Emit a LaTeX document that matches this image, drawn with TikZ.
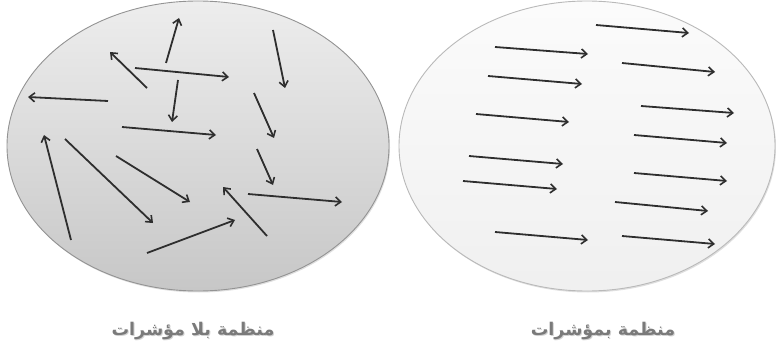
\documentclass[tikz,border=0pt]{standalone}
\usepackage{fontspec}
\newfontfamily\arabicfont[Script=Arabic]{DejaVu Sans}
\TeXXeTstate=1
\usetikzlibrary{arrows.meta,shadows}
\definecolor{arr}{HTML}{2E2E2E}
\definecolor{lbl}{HTML}{7A7A7A}
\tikzset{
  vec/.style={draw=arr,line width=1.8pt,-{Straight Barb[length=5.5pt,width=9pt,line width=1.6pt]}},
  blob/.style={line width=0.9pt,drop shadow={shadow xshift=1pt,shadow yshift=-1.5pt,opacity=0.25}},
  lab/.style={text=lbl,font=\arabicfont\bfseries\fontsize{17.5}{20}\selectfont}
}
\begin{document}
\begin{tikzpicture}[x=1pt,y=-1pt]
\useasboundingbox (0,0) rectangle (776,350);
% left ellipse
\path[blob,draw=gray!85,top color=gray!14,bottom color=gray!44] (198,146) ellipse [x radius=191,y radius=145];
% right ellipse
\path[blob,draw=gray!55,top color=gray!3,bottom color=gray!12] (587,146) ellipse [x radius=188,y radius=145];
% left arrows
\draw[vec] (166,63) -- (179,18);
\draw[vec] (147,88) -- (110,52);
\draw[vec] (135,68) -- (229,77);
\draw[vec] (273,30) -- (285,88);
\draw[vec] (178,80) -- (172,122);
\draw[vec] (108,101) -- (28,97);
\draw[vec] (122,127) -- (216,135);
\draw[vec] (254,93) -- (274,138);
\draw[vec] (257,149) -- (273,185);
\draw[vec] (71,240) -- (44,135);
\draw[vec] (65,139) -- (153,223);
\draw[vec] (116,156) -- (190,202);
\draw[vec] (267,236) -- (223,187);
\draw[vec] (248,194) -- (342,202);
\draw[vec] (147,253) -- (235,220);
% right arrows
\draw[vec] (596,25) -- (689,33);
\draw[vec] (495,47) -- (588,54);
\draw[vec] (622,63) -- (715,72);
\draw[vec] (488,76) -- (582,84);
\draw[vec] (641,106) -- (734,113);
\draw[vec] (476,114) -- (569,122);
\draw[vec] (634,135) -- (727,143);
\draw[vec] (469,156) -- (563,164);
\draw[vec] (463,181) -- (557,189);
\draw[vec] (634,173) -- (727,181);
\draw[vec] (615,202) -- (708,211);
\draw[vec] (495,232) -- (588,240);
\draw[vec] (622,236) -- (715,244);
% labels (with soft shadow)
\node[lab,text=gray!35] at (194,332) {\beginR منظمة بلا مؤشرات\endR};
\node[lab] (l1) at (193,331) {\beginR منظمة بلا مؤشرات\endR};
\node[lab,text=gray!35] at (604,332) {\beginR منظمة بمؤشرات\endR};
\node[lab] (l2) at (603,331) {\beginR منظمة بمؤشرات\endR};
\end{tikzpicture}
\end{document}
